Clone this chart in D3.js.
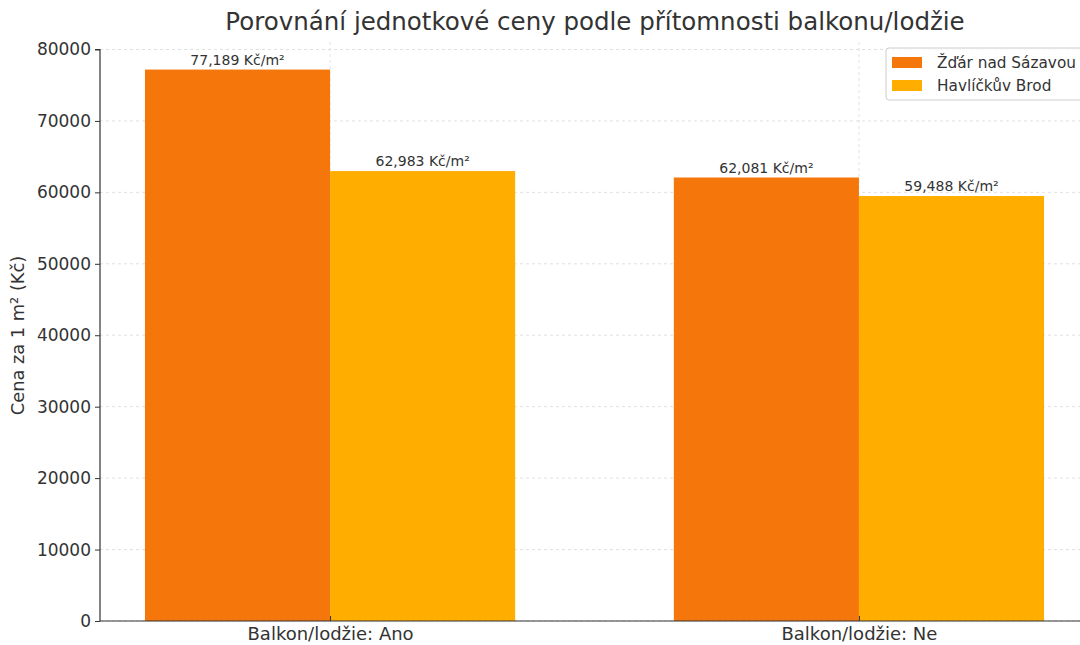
<!DOCTYPE html>
<html><head><meta charset="utf-8">
<script src="https://cdn.jsdelivr.net/npm/d3@7"></script>
<style>body{margin:0;background:#fff}svg{display:block;font-family:"DejaVu Sans",sans-serif}</style>
</head><body><svg id="c" width="1080" height="645"></svg>
<script>
const categories = ["Balkon/lodžie: Ano", "Balkon/lodžie: Ne"];
const seriesNames = ["Žďár nad Sázavou", "Havlíčkův Brod"];
const zdarValues = [77189, 62081];
const brodValues = [62983, 59488];
const yTicks = [0, 10000, 20000, 30000, 40000, 50000, 60000, 70000, 80000];
const colors = ["#F5760A", "#FFAE00"];
const title = "Porovnání jednotkové ceny podle přítomnosti balkonu/lodžie";
const yLabel = "Cena za 1 m² (Kč)";

const series = [zdarValues, brodValues];
const svg = d3.select("#c");
const L = 100, R = 1089, T = 42, B = 621;
const barW = 0.35;
const x = d3.scaleLinear().domain([-0.435, 1.435]).range([L, R]);
const ymax = d3.max(zdarValues.concat(brodValues)) * 1.05;
const y = d3.scaleLinear().domain([0, ymax]).range([B, T]);
const txt = "#333";

// grid
const g = svg.append("g");
g.selectAll("line.h").data(yTicks).join("line")
  .attr("x1", L).attr("x2", R).attr("y1", d => y(d)).attr("y2", d => y(d))
  .attr("stroke", "#d9d9d9").attr("stroke-dasharray", "3,3").attr("stroke-width", 0.8);
g.selectAll("line.v").data(categories).join("line")
  .attr("x1", (d, i) => x(i)).attr("x2", (d, i) => x(i)).attr("y1", T).attr("y2", B)
  .attr("stroke", "#d9d9d9").attr("stroke-dasharray", "3,3").attr("stroke-width", 0.8);

// bars
series.forEach((vals, s) => {
  const off = s === 0 ? -barW : 0;
  svg.append("g").selectAll("rect").data(vals).join("rect")
    .attr("x", (d, i) => x(i + off)).attr("width", x(barW) - x(0))
    .attr("y", d => y(d)).attr("height", d => B - y(d)).attr("fill", colors[s]);
  svg.append("g").selectAll("text").data(vals).join("text")
    .attr("x", (d, i) => x(i + off + barW / 2)).attr("y", d => y(d) - 5)
    .attr("text-anchor", "middle").attr("font-size", 14).attr("fill", txt)
    .text(d => d3.format(",")(d) + " Kč/m²");
});

// axes
const ya = d3.axisLeft(y).tickValues(yTicks).tickSize(5).tickPadding(4).tickFormat(d => String(d));
const yg = svg.append("g").attr("transform", `translate(${L},0)`).call(ya);
yg.select(".domain").attr("d", `M-5,${y(80000)}H0V${B}`).attr("stroke", "#333").attr("stroke-width", 1.2);
yg.selectAll(".tick line").attr("stroke", "#333");
yg.selectAll(".tick text").attr("font-size", 17).attr("fill", txt).attr("font-family", "DejaVu Sans");

const xa = d3.axisBottom(x).tickValues([0, 1]).tickSize(5).tickPadding(4).tickFormat((d) => categories[d]);
const xg = svg.append("g").attr("transform", `translate(0,${B})`).call(xa);
xg.select(".domain").attr("d", `M${L},0H${R}`).attr("stroke", "#333").attr("stroke-width", 1.2);
xg.selectAll(".tick line").attr("stroke", "#333").attr("y2", -5);
xg.selectAll(".tick text").attr("font-size", 18).attr("fill", txt).attr("font-family", "DejaVu Sans").attr("dy", "0.55em");

// title
svg.append("text").attr("x", 595).attr("y", 30).attr("text-anchor", "middle")
  .attr("font-size", 24.5).attr("fill", txt).text(title);
// y label
svg.append("text").attr("transform", `translate(24,${(B + T) / 2 + 4}) rotate(-90)`)
  .attr("text-anchor", "middle").attr("font-size", 17.8).attr("fill", txt).text(yLabel);

// legend
const lg = svg.append("g");
lg.append("rect").attr("x", 886).attr("y", 48).attr("width", 210).attr("height", 52)
  .attr("rx", 3).attr("fill", "#fff").attr("fill-opacity", 0.8).attr("stroke", "#ccc");
seriesNames.forEach((n, i) => {
  lg.append("rect").attr("x", 892).attr("y", 57 + i * 23).attr("width", 30).attr("height", 11).attr("fill", colors[i]);
  lg.append("text").attr("x", 937).attr("y", 68 + i * 23).attr("font-size", 15.3).attr("fill", txt).text(n);
});
</script></body></html>
